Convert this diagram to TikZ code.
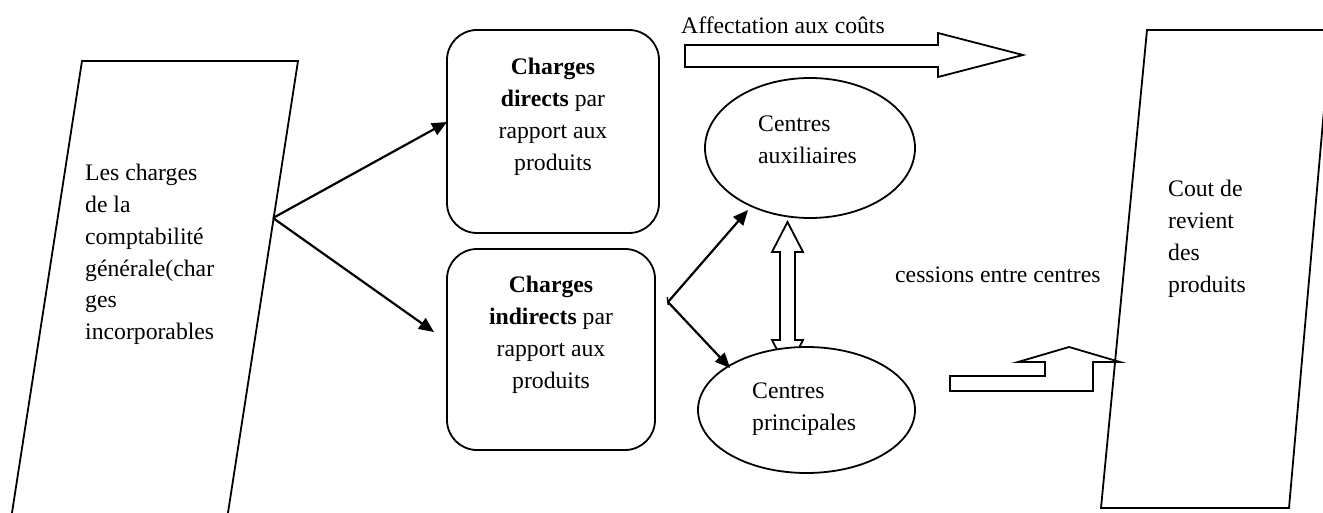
\documentclass[tikz,border=0pt]{standalone}
\usepackage{fontspec}
\setmainfont{Liberation Serif}
\usetikzlibrary{arrows.meta,shapes.geometric}

\begin{document}
\begin{tikzpicture}[x=1pt,y=-1pt,
  outline/.style={draw=black,line width=1.8pt,line join=miter},
  rbox/.style={draw=black,line width=1.8pt,rounded corners=30pt,inner sep=0pt},
  oval/.style={draw=black,line width=1.8pt,ellipse,fill=white,inner sep=0pt},
  txt/.style={font=\fontsize{23.7}{31.8}\selectfont,inner sep=0pt,align=left},
  ctxt/.style={font=\fontsize{23.7}{31.8}\selectfont,inner sep=0pt,align=center},
  link/.style={draw=black,line width=2.2pt,-{Triangle[length=15pt,width=13pt]}},
  hollow/.style={draw=black,line width=1.8pt,fill=white,line join=miter}
]
\useasboundingbox (0,0) rectangle (1323,513);
\clip (0,0) rectangle (1323,513);

% source and result parallelograms (both run past the page edge)
\draw[outline] (82,61) -- (298,61) -- (223,545) -- (7,545) -- cycle;
\draw[outline] (1147,30) -- (1331,30) -- (1289,508) -- (1101,508) -- cycle;

\node[txt,anchor=north west] (src text) at (85,164)
  {Les charges\\de la\\comptabilité\\générale(char\\ges\\incorporables};
\node[txt,anchor=north west] (res text) at (1168,180)
  {Cout de\\revient\\des\\produits};

% direct / indirect charges
\node[rbox,minimum width=212pt,minimum height=203pt] (direct) at (553,131.5) {};
\node[rbox,minimum width=208pt,minimum height=201pt] (indirect) at (551,349.5) {};
\node[ctxt,anchor=north] (direct text) at (553,58)
  {\bfseries Charges\\{\bfseries directs} par\\rapport aux\\produits};
\node[ctxt,anchor=north] (indirect text) at (551,276)
  {\bfseries Charges\\{\bfseries indirects} par\\rapport aux\\produits};

% two-way transfer between centres
\draw[hollow] (787.5,222) -- (803,252) -- (795,252) -- (795,340) -- (803,340)
  -- (787.5,370) -- (772,340) -- (780,340) -- (780,252) -- (772,252) -- cycle;

% cost centres
\node[oval,minimum width=210pt,minimum height=140pt] (aux) at (810,148) {};
\node[oval,minimum width=217pt,minimum height=126pt] (princ) at (806.5,410) {};
\node[txt,anchor=north west] (aux text) at (758,116) {Centres\\auxiliaires};
\node[txt,anchor=north west] (princ text) at (752,383) {Centres\\principales};

% connectors
\coordinate (src) at (273,218);
\coordinate (to direct) at (447,122);
\coordinate (to indirect) at (434,332);
\coordinate (split) at (668,302);
\coordinate (to aux) at (748,210);
\coordinate (to princ) at (730,368);
\draw[link] (src) -- (to direct);
\draw[link] (src) -- (to indirect);
\draw[link] (split) -- (to aux);
\draw[link] (split) -- (to princ);
\draw[line width=1.5pt] (667.3,297) -- (668.3,305);

% cost allocation arrow
\node[txt,anchor=base west] (alloc text) at (681,34) {Affectation aux coûts};
\draw[hollow] (685,45) -- (938,45) -- (938,33) -- (1023,55) -- (938,77)
  -- (938,67) -- (685,67) -- cycle;

% transfers between centres
\node[txt,anchor=base west] (transfer text) at (895,283) {cessions entre centres};
\draw[hollow] (950,376) -- (1045,376) -- (1045,362) -- (1018,362) -- (1069,347)
  -- (1120,362) -- (1093,362) -- (1093,391) -- (950,391) -- cycle;
\end{tikzpicture}
\end{document}
